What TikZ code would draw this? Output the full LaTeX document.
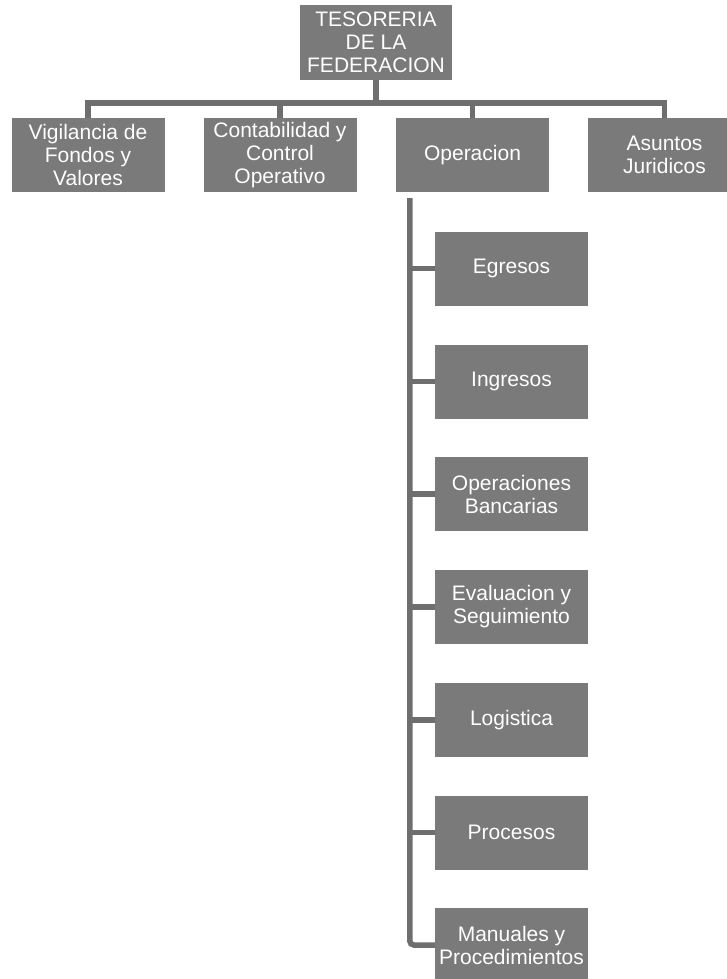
\documentclass[tikz,border=0pt]{standalone}
\usepackage{fontspec}
\setmainfont{Liberation Sans}
\usetikzlibrary{calc}
\definecolor{boxgray}{HTML}{7A7A7A}
\definecolor{linegray}{HTML}{6E6E6E}
\begin{document}
\begin{tikzpicture}[x=1pt,y=-1pt,
  orgbox/.style={fill=boxgray, draw=none, text=white, minimum width=153pt, minimum height=74pt,
    inner sep=0pt, align=center, font=\fontsize{21}{23}\selectfont},
  conn/.style={draw=linegray, line width=5.5pt},
]
\useasboundingbox (0,0) rectangle (727,979);
\clip (0,0) rectangle (727,979);
% top
\node[orgbox, minimum width=152pt, minimum height=75pt] (top) at (376,42.5) {TESORERIA\\DE LA\\FEDERACION};
% level 1
\node[orgbox] (vig) at (88,155) {Vigilancia de\\Fondos y\\Valores};
\node[orgbox] (con) at (280,155) {Contabilidad y\\Control\\Operativo};
\node[orgbox] (ope) at (472.5,155) {Operacion};
\node[orgbox] (asu) at (664.5,155) {Asuntos\\Juridicos};
% children of Operacion
\node[orgbox] (egr) at (511.5,268.5) {Egresos};
\node[orgbox] (ing) at (511.5,381.5) {Ingresos};
\node[orgbox] (ban) at (511.5,494) {Operaciones\\Bancarias};
\node[orgbox] (eva) at (511.5,607) {Evaluacion y\\Seguimiento};
\node[orgbox] (log) at (511.5,720) {Logistica};
\node[orgbox] (pro) at (511.5,832.5) {Procesos};
\node[orgbox] (man) at (511.5,945) {Manuales y\\Procedimientos};
% top connectors
\coordinate (bar) at ($(top.south)+(0,23)$);
\foreach \c in {vig,con,ope,asu}{
  \draw[conn] (top.south) -- (bar) -| (\c.north);
}
% operacion vertical line
\coordinate (vstart) at ($(ope.south west)+(14,6)$);
\draw[conn, rounded corners=4pt] (vstart) |- (man.west);
\foreach \c in {egr,ing,ban,eva,log,pro}{
  \draw[conn] (vstart |- \c.west) -- (\c.west);
}
\end{tikzpicture}
\end{document}
